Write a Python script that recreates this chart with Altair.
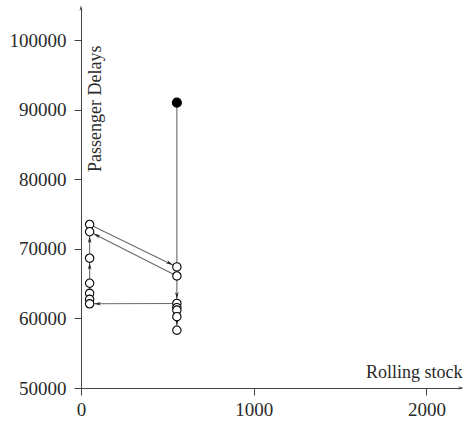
import altair as alt
import pandas as pd

# ---- data ----
pt_x = [555, 555, 555, 555, 555, 555, 555, 555, 50, 50, 50, 50, 50, 50, 50]
pt_y = [91000, 67400, 66100, 62150, 61550, 61200, 60250, 58300,
        73500, 72450, 68650, 65050, 63600, 62750, 62100]
pt_filled = [1, 0, 0, 0, 0, 0, 0, 0, 0, 0, 0, 0, 0, 0, 0]

seg_x1 = [555, 50, 555, 555, 555, 555, 555, 50, 50, 50]
seg_y1 = [91000, 73500, 66100, 66100, 62150, 62150, 60250, 62100, 65050, 68650]
seg_x2 = [555, 555, 50, 555, 50, 555, 555, 50, 50, 50]
seg_y2 = [67400, 67400, 72450, 62150, 62100, 60250, 58300, 65050, 68650, 72450]
seg_arrow = [0, 1, 1, 1, 1, 0, 1, 0, 1, 1]

x_domain = [0, 2200]
y_domain = [50000, 104600]
x_ticks = [0, 1000, 2000]
y_ticks = [50000, 60000, 70000, 80000, 90000, 100000]

# axis-end arrows (end of each axis line)
axarr_x = [0, 2200]
axarr_y = [104600, 50000]
axarr_ang = [270, 0]

W, H = 380, 380
FONT = "Liberation Serif"
ARROW = "M1,0L-1,-0.55L-0.45,0L-1,0.55Z"

points = pd.DataFrame({"x": pt_x, "y": pt_y, "filled": pt_filled})
segs = pd.DataFrame({"x1": seg_x1, "y1": seg_y1, "x2": seg_x2, "y2": seg_y2,
                     "arrow": seg_arrow})
axarr = pd.DataFrame({"x": axarr_x, "y": axarr_y, "ang": axarr_ang})

kx = W / (x_domain[1] - x_domain[0])
ky = H / (y_domain[1] - y_domain[0])


def X(field):
    return alt.X(field, type="quantitative",
                 scale=alt.Scale(domain=x_domain, nice=False, zero=False),
                 axis=alt.Axis(values=x_ticks, title="Rolling stock", titleX=381,
                               titleY=-11, titleAlign="right",
                               titleBaseline="alphabetic", titleAngle=0,
                               labelPadding=5, format="d"))


def Y(field):
    return alt.Y(field, type="quantitative",
                 scale=alt.Scale(domain=y_domain, nice=False, zero=False),
                 axis=alt.Axis(values=y_ticks, title="Passenger Delays", titleX=19,
                               titleY=37, titleAngle=270, titleAlign="right",
                               titleBaseline="alphabetic", labelPadding=8,
                               format="d"))


rules = alt.Chart(segs).mark_rule(color="#6a6a6a", strokeWidth=1.1).encode(
    x=X("x1"), y=Y("y1"), x2="x2", y2="y2")

arrows = alt.Chart(segs).transform_filter("datum.arrow == 1").transform_calculate(
    dxp=f"(datum.x2 - datum.x1) * {kx}",
    dyp=f"-(datum.y2 - datum.y1) * {ky}",
).transform_calculate(
    ln="sqrt(datum.dxp * datum.dxp + datum.dyp * datum.dyp)"
).transform_calculate(
    ux="datum.dxp / datum.ln", uy="datum.dyp / datum.ln"
).transform_calculate(
    ax=f"datum.x2 - 8 * datum.ux / {kx}",
    ay=f"datum.y2 + 8 * datum.uy / {ky}",
    ang="(atan2(datum.uy, datum.ux) * 180 / PI + 360) % 360",
).mark_point(shape=ARROW, filled=True, color="#222", size=44, opacity=1).encode(
    x=X("ax"), y=Y("ay"), angle=alt.Angle("ang:Q", scale=None))

circles = alt.Chart(points).mark_point(
    shape="circle", filled=True, stroke="black", strokeWidth=1.1, opacity=1
).encode(
    x=X("x"), y=Y("y"),
    fill=alt.condition(alt.datum.filled == 1, alt.value("black"), alt.value("white")),
    size=alt.condition(alt.datum.filled == 1, alt.value(81), alt.value(70)),
)

axis_heads = alt.Chart(axarr).mark_point(
    shape=ARROW, filled=True, color="#444", size=30, opacity=1
).encode(x=X("x"), y=Y("y"), angle=alt.Angle("ang:Q", scale=None))

chart = alt.layer(rules, arrows, circles, axis_heads).properties(
    width=W, height=H,
    padding={"left": 81, "top": 8, "right": 2, "bottom": 35},
    autosize=alt.AutoSizeParams(type="none"),
).configure_view(stroke=None).configure_axis(
    grid=False, domainColor="#444", domainWidth=1, tickColor="#444", tickSize=7,
    tickWidth=1, labelFont=FONT, labelFontSize=19, labelColor="#2a2a2a",
    titleFont=FONT, titleFontSize=18, titleFontWeight="normal", titleColor="#2a2a2a",
    labelFlush=False,
)

chart.save("out.html", embed_options={"renderer": "svg", "actions": False})
